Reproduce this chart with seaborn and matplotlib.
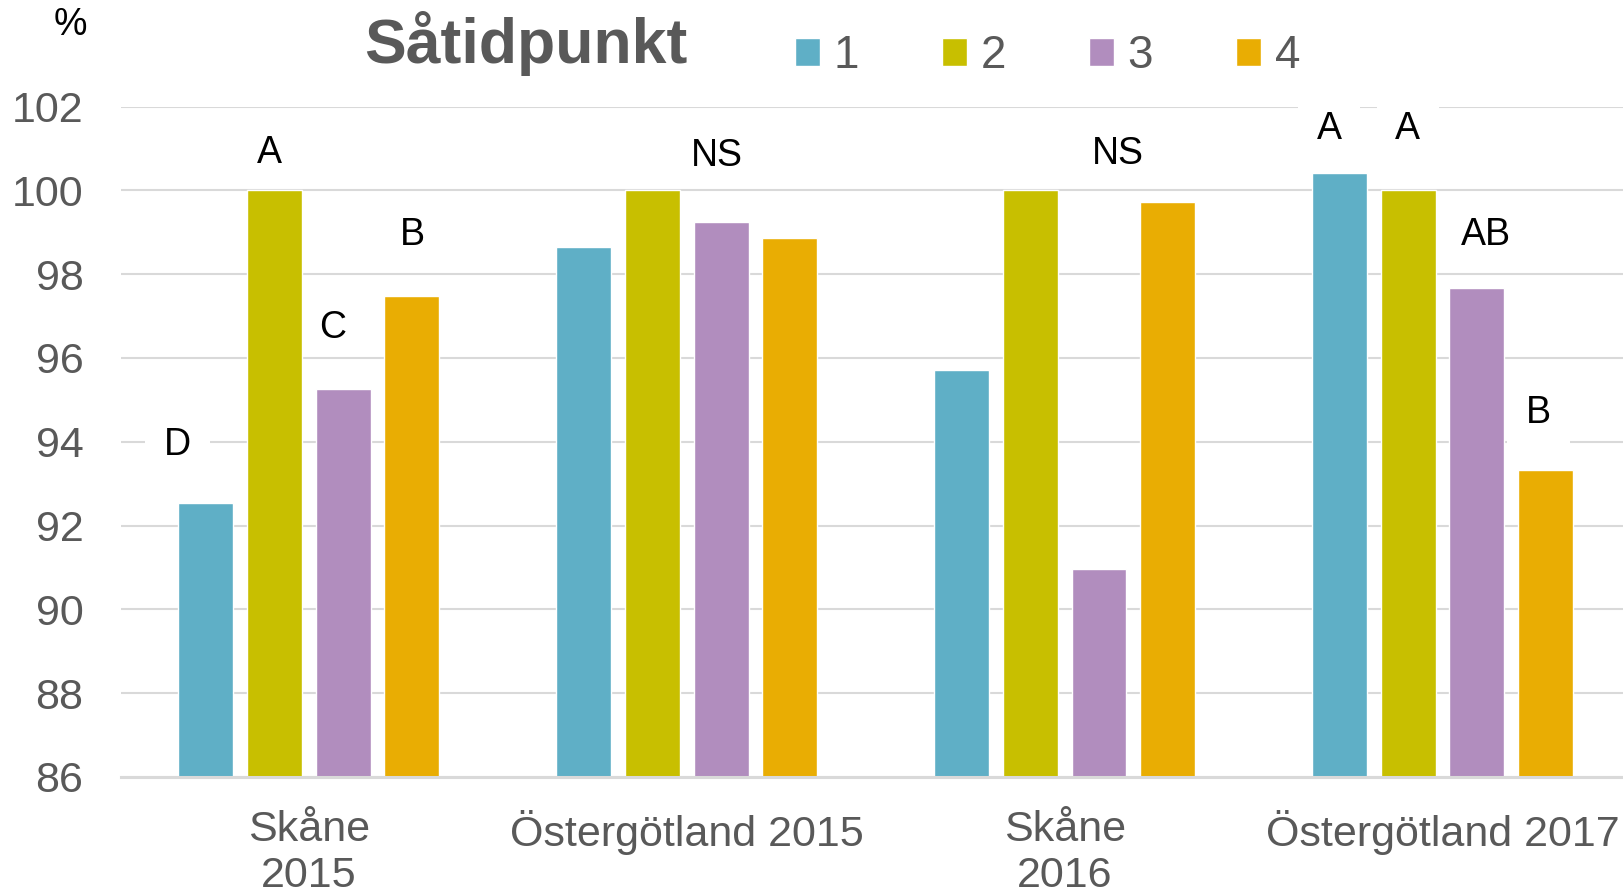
import numpy as np
import pandas as pd
import matplotlib.pyplot as plt
import seaborn as sns

#%% data
sites = ['Skåne\n2015', 'Östergötland 2015', 'Skåne\n2016', 'Östergötland 2017']
sowing = ['1', '2', '3', '4']
v1 = [92.53, 98.64, 95.72, 100.42]
v2 = [100.0, 100.0, 100.0, 100.0]
v3 = [95.25, 99.25, 90.97, 97.67]
v4 = [97.47, 98.86, 99.72, 93.32]
colors = ['#5FAFC6', '#C8BF00', '#B18DBE', '#E9AD03']

# significance letters (x in category units, y in %)
sig_text = ['D', 'A', 'C', 'B', 'NS', 'NS', 'A', 'A', 'AB', 'B']
sig_x = [-0.347, -0.105, 0.064, 0.275, 1.081, 2.141, 2.70, 2.908, 3.116, 3.253]
sig_y = [93.93, 100.89, 96.71, 98.93, 100.82, 100.87, 101.46, 101.46, 98.93, 94.68]
sig_box = [True, False, False, False, False, False, True, True, False, True]

df = pd.DataFrame({
    'site': sites * 4,
    'sow': np.repeat(sowing, len(sites)),
    'value': v1 + v2 + v3 + v4,
})

#%% plot
sns.set_style('white')
plt.rcParams['font.family'] = ['Liberation Sans', 'DejaVu Sans']
grey = '#595959'

fig = plt.figure(figsize=(16.24, 8.96), dpi=100)
ax = fig.add_axes([0.0745, 0.133, 0.9255, 0.748])

sns.barplot(data=df, x='site', y='value', hue='sow', hue_order=sowing,
            palette=colors, saturation=1, width=0.727, gap=0.2, ax=ax)

ax.set_ylim(86, 102)
ax.set_yticks(range(86, 103, 2))
ax.set_xlim(-0.497, 3.48)
ax.set_xlabel('')
ax.set_ylabel('')

ax.set_axisbelow(True)
ax.yaxis.grid(True, color='#D9D9D9', lw=1.5)
for s in ['left', 'right', 'top']:
    ax.spines[s].set_visible(False)
ax.spines['bottom'].set_color('#D9D9D9')
ax.spines['bottom'].set_linewidth(2.2)

ax.tick_params(axis='y', length=0, pad=27, labelsize=31, labelcolor=grey)
ax.tick_params(axis='x', length=0, pad=24, labelsize=31, labelcolor=grey)
for lab in ax.get_xticklabels():
    lab.set_linespacing(1.2)

for t, x, y, b in zip(sig_text, sig_x, sig_y, sig_box):
    ax.text(x, y, t, ha='center', va='center', fontsize=27, color='black', zorder=5,
            bbox=dict(facecolor='white', edgecolor='none', boxstyle='square,pad=0.5') if b else None)

handles, labels = ax.get_legend_handles_labels()
ax.get_legend().remove()
fig.legend(handles, labels, ncol=4, frameon=False, loc='center left',
           bbox_to_anchor=(0.4895, 0.937), fontsize=33, handlelength=0.55,
           handleheight=0.55, handletextpad=0.3, columnspacing=1.8,
           borderpad=0, borderaxespad=0, labelcolor=grey)

fig.text(526 / 1624, 1 - 63 / 896, 'Såtidpunkt', ha='center', va='baseline',
         fontsize=45, fontweight='bold', color=grey)
fig.text(70 / 1624, 1 - 35 / 896, '%', ha='center', va='baseline',
         fontsize=27, color='black')

fig.savefig('out.png', dpi=100)
